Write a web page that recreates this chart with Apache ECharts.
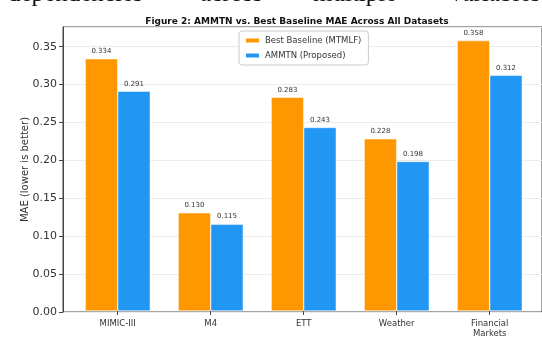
<!DOCTYPE html>
<html><head><meta charset="utf-8">
<script src="https://cdn.jsdelivr.net/npm/echarts@6/dist/echarts.min.js"></script>
<style>html,body{margin:0;padding:0;background:#fff}#c{width:542px;height:339px}</style>
</head><body><div id="c"></div>
<script>
const categories = ['MIMIC-III', 'M4', 'ETT', 'Weather', 'Financial\nMarkets'];
const baselineMAE = [0.334, 0.130, 0.283, 0.228, 0.358];
const ammtnMAE = [0.291, 0.115, 0.243, 0.198, 0.312];
const seriesNames = ['Best Baseline (MTMLF)', 'AMMTN (Proposed)'];
const titleText = 'Figure 2: AMMTN vs. Best Baseline MAE Across All Datasets';
const yAxisName = 'MAE (lower is better)';
const topTextWords = ['dependencies', 'across', 'multiple', 'variables'];

const chart = echarts.init(document.getElementById('c'), null, {renderer: 'canvas'});
const font = 'DejaVu Sans';
const yMax = 0.376;
const labelStyle = {show: true, position: 'top', distance: 4, fontSize: 7, color: '#333', fontFamily: font,
  formatter: p => p.value.toFixed(3)};
const topX = [8, 200, 313, 450];
chart.setOption({
  animation: false,
  backgroundColor: '#fff',
  textStyle: {fontFamily: font},
  title: {text: titleText, left: 292, top: 12, textAlign: 'center',
    textStyle: {fontSize: 9, fontWeight: 'bold', color: '#111', fontFamily: font}},
  graphic: topTextWords.map((w, i) => ({type: 'text', left: topX[i], top: -18,
    style: {text: w, font: '25px "Liberation Serif"', fill: '#111'}})),
  legend: {orient: 'vertical', left: 239, top: 31, itemWidth: 15, itemHeight: 6, itemGap: 6,
    padding: [5, 7, 5, 5], borderColor: '#ccc', borderWidth: 1, borderRadius: 3, backgroundColor: '#fff',
    textStyle: {fontSize: 8.5, color: '#333', fontFamily: font}, data: seriesNames},
  grid: [
    {left: 63, top: 27, right: -3, height: 285, show: true, borderColor: '#444', borderWidth: 1, backgroundColor: 'transparent'},
    {left: 71.2, top: 27, width: 465, height: 285}
  ],
  xAxis: [
    {type: 'value', gridIndex: 0, min: 0, max: 1, show: false},
    {type: 'category', gridIndex: 1, data: categories,
      axisLine: {show: false}, axisTick: {show: true, alignWithLabel: true, length: 4, lineStyle: {color: '#444'}},
      axisLabel: {fontSize: 8.5, color: '#333', margin: 8, lineHeight: 10, fontFamily: font}, splitLine: {show: false}}
  ],
  yAxis: [
    {type: 'value', gridIndex: 0, min: 0, max: yMax, interval: 0.05,
      name: yAxisName, nameLocation: 'middle', nameGap: 33, nameMoveOverlap: false,
      nameTextStyle: {fontSize: 10, color: '#333', fontFamily: font},
      axisLine: {show: true, lineStyle: {color: '#444'}},
      axisTick: {show: true, length: 4, lineStyle: {color: '#444'}},
      axisLabel: {fontSize: 11, color: '#333', margin: 6, showMaxLabel: false, fontFamily: font,
        formatter: v => v.toFixed(2)},
      splitLine: {show: true, lineStyle: {color: '#ececec'}}},
    {type: 'value', gridIndex: 1, min: 0, max: yMax, show: false}
  ],
  series: [
    {name: seriesNames[0], type: 'bar', xAxisIndex: 1, yAxisIndex: 1, data: baselineMAE,
      barWidth: '35%', barGap: '0%', itemStyle: {color: '#FF9800', borderColor: '#fff', borderWidth: 0.5},
      label: labelStyle},
    {name: seriesNames[1], type: 'bar', xAxisIndex: 1, yAxisIndex: 1, data: ammtnMAE,
      barWidth: '35%', barGap: '0%', itemStyle: {color: '#2196F3', borderColor: '#fff', borderWidth: 0.5},
      label: labelStyle}
  ]
});
</script></body></html>
